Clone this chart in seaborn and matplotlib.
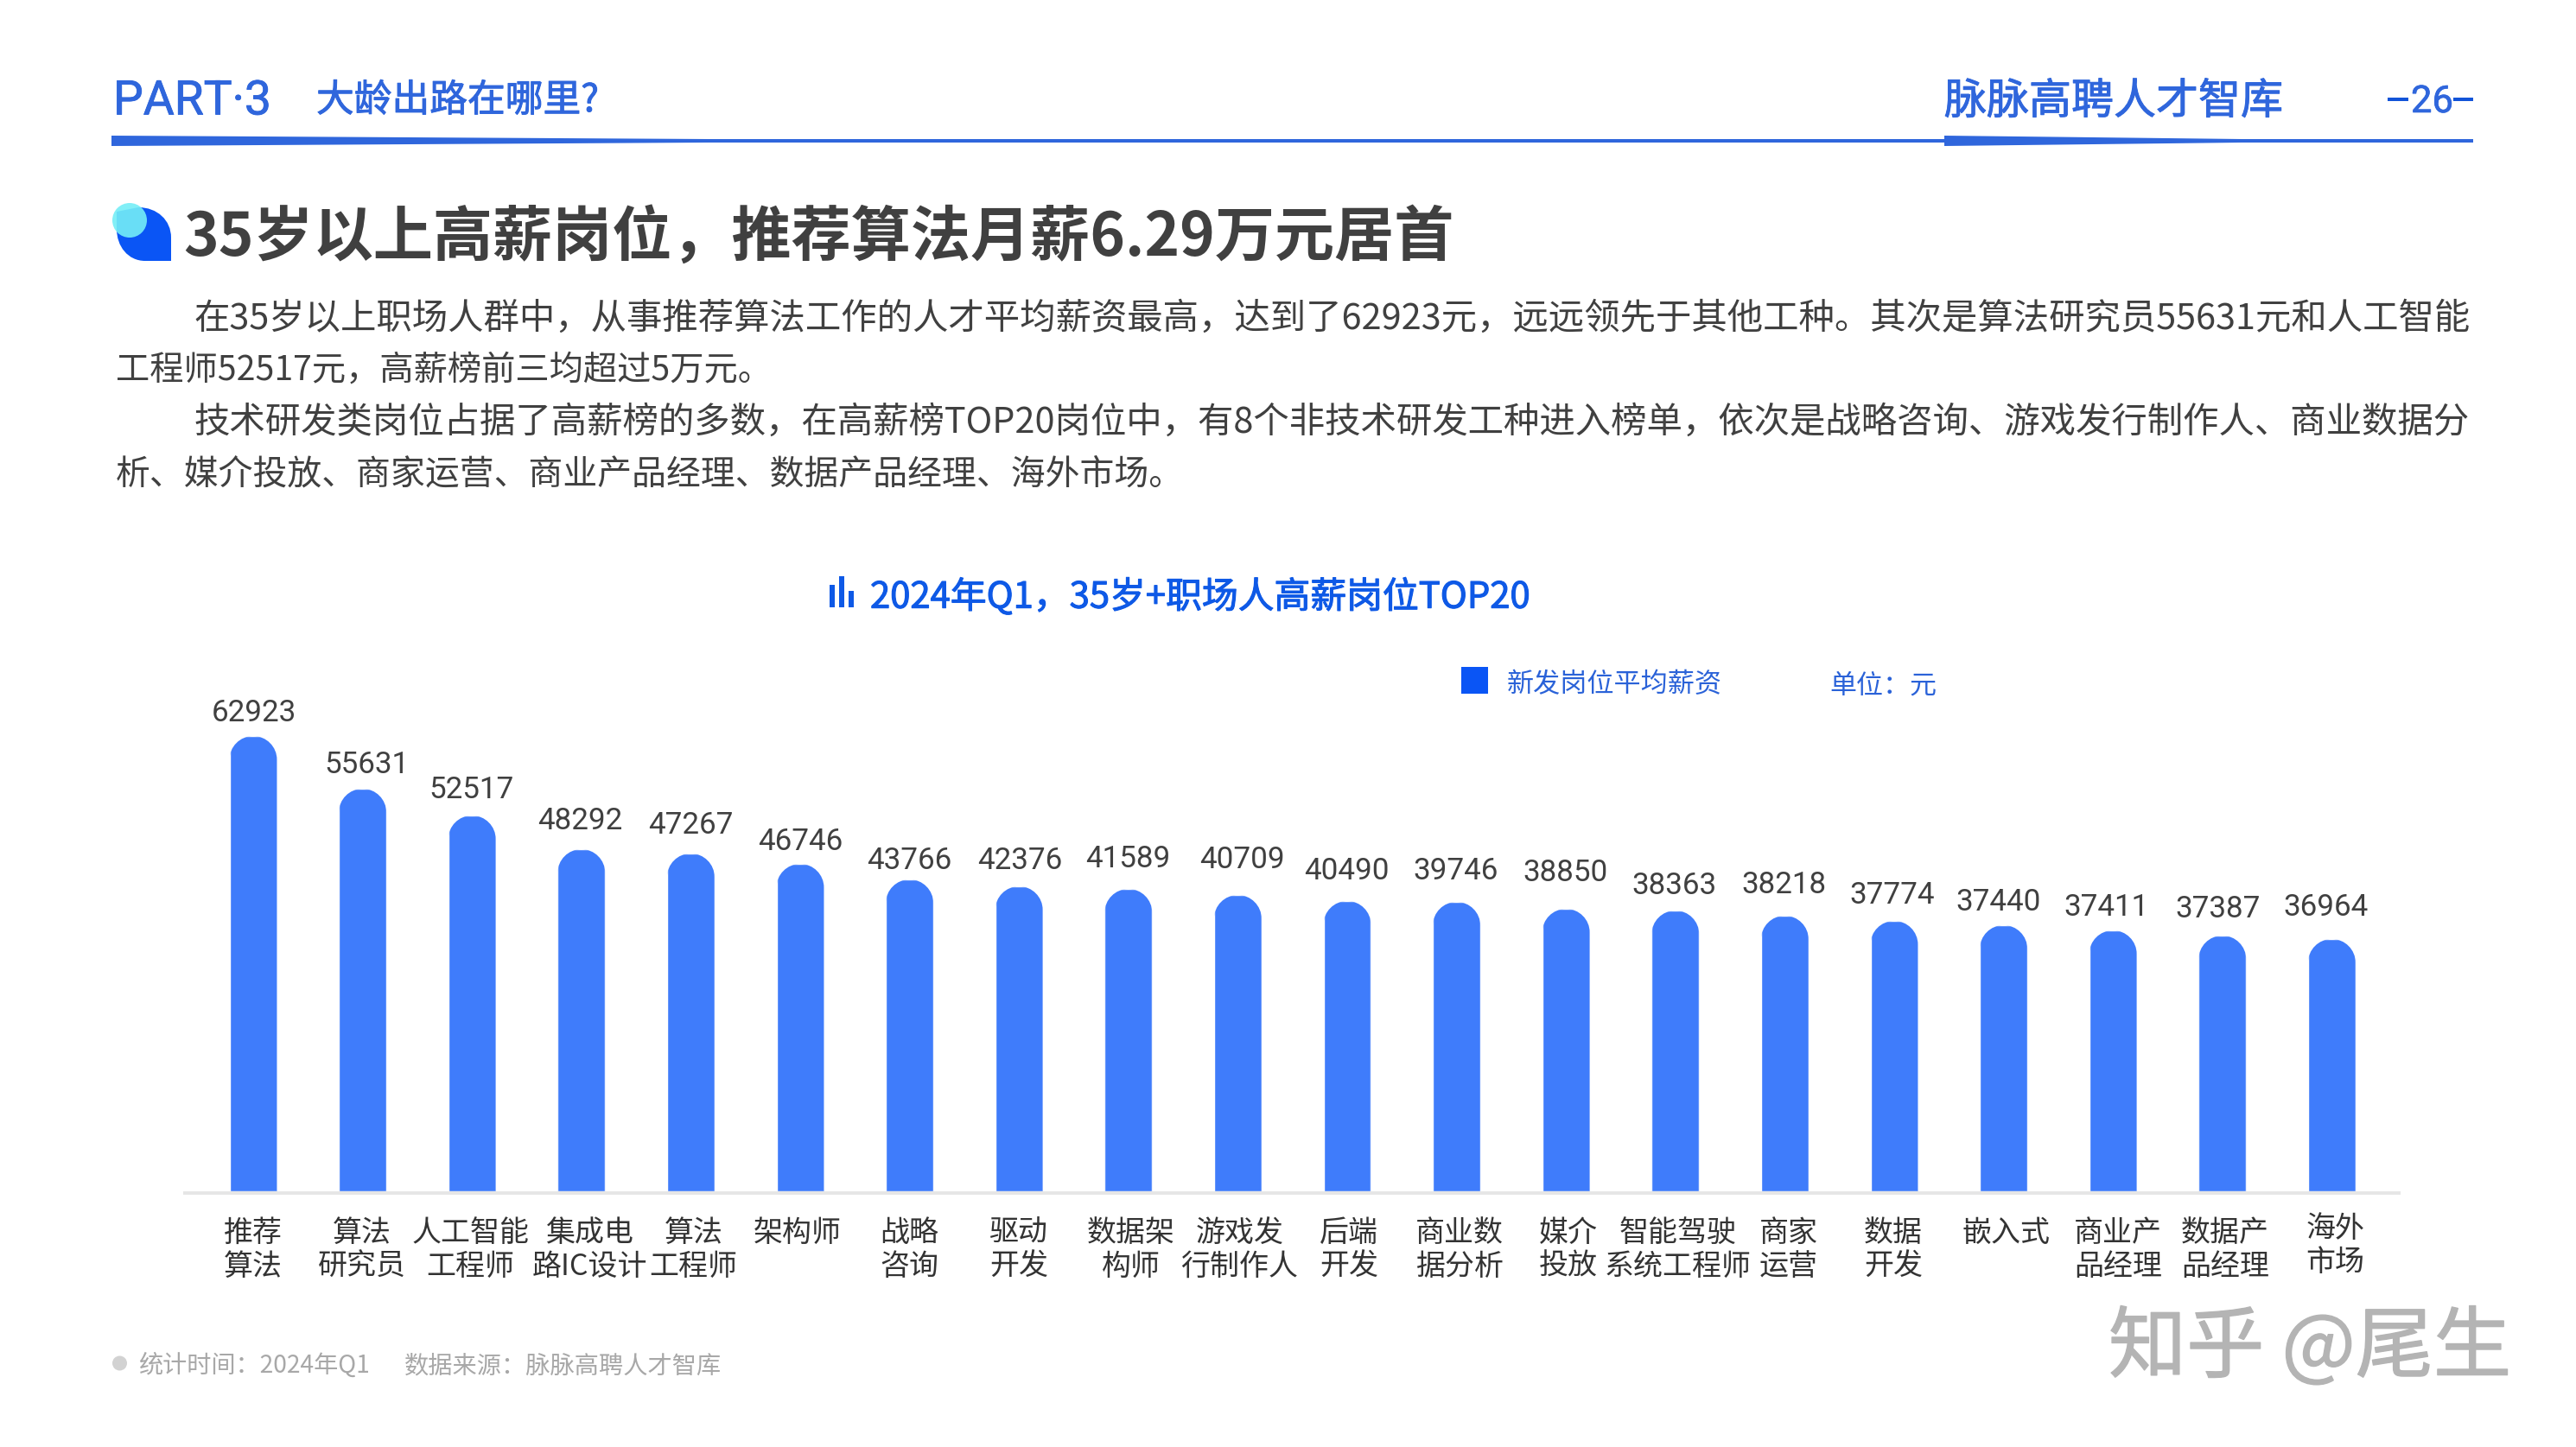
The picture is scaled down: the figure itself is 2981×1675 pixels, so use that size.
import pandas as pd
import matplotlib
matplotlib.use('Agg')
import matplotlib.pyplot as plt
import matplotlib.patheffects as pe
import seaborn as sns
from matplotlib.patches import Ellipse, PathPatch, Polygon, Rectangle
from matplotlib.path import Path
from matplotlib.transforms import ScaledTranslation

jobs = ['推荐\n算法', '算法\n研究员', '人工智能\n工程师', '集成电\n路IC设计', '算法\n工程师',
        '架构师', '战略\n咨询', '驱动\n开发', '数据架\n构师', '游戏发\n行制作人',
        '后端\n开发', '商业数\n据分析', '媒介\n投放', '智能驾驶\n系统工程师', '商家\n运营',
        '数据\n开发', '嵌入式', '商业产\n品经理', '数据产\n品经理', '海外\n市场']
salary = [62923, 55631, 52517, 48292, 47267, 46746, 43766, 42376, 41589, 40709,
          40490, 39746, 38850, 38363, 38218, 37774, 37440, 37411, 37387, 36964]
# the bars in the source are not quite to scale, these are read off the bar tops
bar_height = [62923, 55640, 51940, 47280, 46690, 45250, 43100, 42150, 41790, 40950,
              40120, 40000, 39040, 38800, 38090, 37370, 36780, 36060, 35340, 34870]

# hand placed offsets of the labels in the source, in pixels
value_gap = [27, 27, 29, 33, 32, 26, 22, 29, 34, 41, 34, 35, 42, 29, 35, 30, 26, 26, 31, 36]
value_dx = [1, 5, -1, -2, 0, 0, 0, 1, -1, 5, -1, -1, -1, -1, -1, -2, -6, -8, -5, -7]
tick_dx = [0, -1, -2, 10, 3, -3, 0, 0, 3, 2, 2, 3, 3, 3, 4, -1, 3, 6, 3, 4]

body_lines = [
    '在35岁以上职场人群中，从事推荐算法工作的人才平均薪资最高，达到了62923元，远远领先于其他工种。其次是算法研究员55631元和人工智能',
    '工程师52517元，高薪榜前三均超过5万元。',
    '技术研发类岗位占据了高薪榜的多数，在高薪榜TOP20岗位中，有8个非技术研发工种进入榜单，依次是战略咨询、游戏发行制作人、商业数据分',
    '析、媒介投放、商家运营、商业产品经理、数据产品经理、海外市场。',
]

W, H = 2981, 1675
CJK = ['Noto Sans CJK SC', 'DejaVu Sans']
LATIN = ['Roboto', 'DejaVu Sans']
BAR = '#3F7CFB'
HEAD = '#2F66DC'
TITLE_BLUE = '#0E59E6'

sns.set_theme(style='white')
plt.rcParams['font.family'] = CJK

fig = plt.figure(figsize=(W / 100, H / 100), dpi=100, facecolor='white')


def px(size):
    return size * 0.72


# chart axes, placed so the bars land on the same pixels as the source
step = 126.6
first_x = 293
ax_left, ax_right, ax_top, ax_bottom = 214, 2776, 800, 1381
base_y = 1379
units_per_px = 62923 / 527

ax = fig.add_axes([ax_left / W, 1 - ax_bottom / H, (ax_right - ax_left) / W, (ax_bottom - ax_top) / H])
ax.patch.set_alpha(0)
df = pd.DataFrame({'job': jobs, 'height': bar_height})
sns.barplot(data=df, x='job', y='height', color=BAR, saturation=1, width=55 / step, ax=ax)
ax.set_xlim((ax_left - first_x) / step, (ax_right - first_x) / step)
ax.set_ylim(-(ax_bottom - base_y) * units_per_px, (base_y - ax_top) * units_per_px)
ax.set_xlabel('')
ax.set_ylabel('')
ax.set_yticks([])
sns.despine(ax=ax, left=True)
ax.spines['bottom'].set_color('#E6E6E6')
ax.spines['bottom'].set_linewidth(px(4))
ax.tick_params(axis='x', length=0, pad=px(29), labelsize=px(34), labelcolor='#333333')

# round the tops of the bars
k = 0.5523
for bar in ax.patches:
    x0 = bar.get_x()
    w = bar.get_width()
    top = bar.get_height()
    rx = w / 2
    ry = rx * step * units_per_px
    verts = [(x0, 0), (x0, top - ry),
             (x0, top - ry + k * ry), (x0 + rx - k * rx, top), (x0 + rx, top),
             (x0 + rx + k * rx, top), (x0 + w, top - ry + k * ry), (x0 + w, top - ry),
             (x0 + w, 0), (x0, 0)]
    codes = [Path.MOVETO, Path.LINETO, Path.CURVE4, Path.CURVE4, Path.CURVE4,
             Path.CURVE4, Path.CURVE4, Path.CURVE4, Path.LINETO, Path.CLOSEPOLY]
    bar.set_clip_path(Path(verts, codes), ax.transData)

for i, label in enumerate(ax.get_xticklabels()):
    dy = 5 if i == len(jobs) - 1 else 0
    label.set_linespacing(1.15)
    label.set_transform(label.get_transform() + ScaledTranslation(px(tick_dx[i]) / 72, px(dy) / 72, fig.dpi_scale_trans))

for i, v in enumerate(salary):
    ax.annotate(str(v), xy=(i, bar_height[i]), xytext=(px(value_dx[i]), px(value_gap[i])),
                textcoords='offset points', ha='center', va='center',
                fontsize=px(35), color='#404040', family=LATIN)

# page furniture, in pixel coordinates
page = fig.add_axes([0, 0, 1, 1], zorder=5)
page.set_xlim(0, W)
page.set_ylim(H, 0)
page.axis('off')

renderer = fig.canvas.get_renderer()


def put(x0, x1, y, s, size, color, weight='normal', family=CJK, stroke=0):
    t = page.text(x0, y, s, fontsize=px(size), color=color, fontweight=weight, family=family,
                  ha='left', va='center')
    if x1 is not None:
        t.set_fontsize(px(size) * (x1 - x0) / t.get_window_extent(renderer).width)
    if stroke:
        # the CJK family has no medium weight here, thicken the regular one a bit
        t.set_path_effects([pe.withStroke(linewidth=stroke, foreground=color)])
    return t


# header
put(131, 314, 117, 'PART·3', 55, HEAD, 'normal', LATIN, stroke=0.6)
put(366, 693, 117, '大龄出路在哪里?', 44, HEAD, 'normal', stroke=0.7)
put(2250, 2642, 118, '脉脉高聘人才智库', 49, HEAD, 'normal', stroke=0.7)
put(2790, 2839, 118, '26', 48, HEAD, 'normal', LATIN, stroke=0.5)
page.add_patch(Rectangle((2763, 113), 24, 3.5, color='#1254D8', lw=0))
page.add_patch(Rectangle((2839, 113), 23, 3.5, color='#1254D8', lw=0))
page.add_patch(Rectangle((129, 161), 2733, 4, color=HEAD, lw=0))
page.add_patch(Polygon([(129, 157), (820, 161), (820, 165), (129, 169)], color=HEAD, lw=0))
page.add_patch(Polygon([(2250, 157), (2594, 161), (2594, 165), (2250, 169)], color=HEAD, lw=0))

# headline and its icon
icon = Path([(198, 302), (168, 302), (148, 302), (135, 285), (135, 265), (135, 245), (160, 240),
             (182, 240), (198, 255), (198, 275), (198, 302)],
            [Path.MOVETO, Path.LINETO, Path.CURVE4, Path.CURVE4, Path.CURVE4, Path.LINETO, Path.LINETO,
             Path.CURVE4, Path.CURVE4, Path.CURVE4, Path.CLOSEPOLY])
page.add_patch(PathPatch(icon, color='#0A55F5', lw=0))
page.add_patch(Ellipse((150, 255), 40, 40, color='#74EEF7', alpha=0.9, lw=0))
put(212, 1683, 275, '35岁以上高薪岗位，推荐算法月薪6.29万元居首', 72, '#404040', 'bold')

# body text
put(224, 2861, 369, body_lines[0], 40, '#404040')
put(134, 893, 429, body_lines[1], 40, '#404040')
put(224, 2861, 489, body_lines[2], 40, '#404040')
put(134, 1369, 549, body_lines[3], 40, '#404040')

# chart title, legend, unit
page.add_patch(Rectangle((960, 677), 6, 26, color=TITLE_BLUE, lw=0))
page.add_patch(Rectangle((971, 667), 6, 36, color=TITLE_BLUE, lw=0))
page.add_patch(Rectangle((982, 684), 6, 19, color=TITLE_BLUE, lw=0))
put(1007, 1770, 691, '2024年Q1，35岁+职场人高薪岗位TOP20', 41, TITLE_BLUE, 'normal', stroke=0.8)
page.add_patch(Rectangle((1691, 772), 31, 31, color='#0A55F5', lw=0))
put(1744, 1993, 793, '新发岗位平均薪资', 33, '#2A62D8')
put(2117, 2241, 794, '单位：元', 31, '#2A62D8')

# footer and watermark
page.add_patch(Ellipse((138.5, 1578), 17, 17, color='#D2D2D2', lw=0))
put(160, 428, 1581, '统计时间：2024年Q1', 28, '#A8A8A8')
put(468, 835, 1581, '数据来源：脉脉高聘人才智库', 28, '#A8A8A8')
put(2440, 2906, 1562, '知乎 @尾生', 88, '#B4B4B4', 'normal', stroke=1.0)

fig.savefig('out.png', dpi=100, facecolor='white')
